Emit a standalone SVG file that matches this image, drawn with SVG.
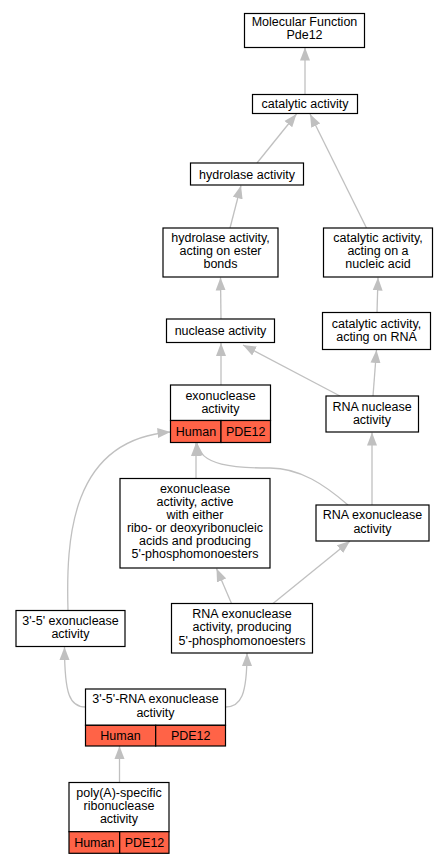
<svg xmlns="http://www.w3.org/2000/svg" width="447" height="864" viewBox="0 0 447 864">
<style>
.n rect{fill:#fff;stroke:#000;stroke-width:1.2}
.n rect.c{fill:#ff6347}
text{font-family:"Liberation Sans",Arial,sans-serif;font-size:12.5px;text-anchor:middle;fill:#000}
.e path{fill:none;stroke:#c0c0c0;stroke-width:1.3;marker-end:url(#a)}
</style>
<defs>
<marker id="a" markerUnits="userSpaceOnUse" markerWidth="14" markerHeight="11" refX="13" refY="5" orient="auto" viewBox="0 0 14 10">
<path d="M0,0 L13,5 L0,10 z" fill="#c0c0c0"/>
</marker>
</defs>
<g id="edges" class="e">
<path d="M305,94.5 L305,47.5"/>
<path d="M257,163 L296.5,114"/>
<path d="M366.5,228 L310,114"/>
<path d="M230,228 L241,185.5"/>
<path d="M221,319 L220.5,277.5"/>
<path d="M377,312.5 L378,277.5"/>
<path d="M221,385 L221,343"/>
<path d="M340,396 L243,345"/>
<path d="M373,396 L376.5,350"/>
<path d="M196,478.5 L196,443"/>
<path d="M348,505 C325,485 300,468 270,468 C235,468 200,466 197,443"/>
<path d="M372,505 L372,432.5"/>
<path d="M231.5,603.5 L216.5,568.5"/>
<path d="M273,603.5 L350,541"/>
<path d="M68,610.5 C66,540 70,440 170.5,432"/>
<path d="M85.5,707 C70,707 64.5,695 64.5,647"/>
<path d="M225.5,707 C241,707 247,695 247,653"/>
<path d="M119.5,782.5 L119.5,746"/>
</g>
<g id="n1" class="n"><rect x="244.5" y="13.5" width="120" height="34"/><text x="304.5" y="26">Molecular Function</text><text x="304.5" y="39">Pde12</text></g>
<g id="n2" class="n"><rect x="252.5" y="94.5" width="105" height="19"/><text x="305" y="108">catalytic activity</text></g>
<g id="n3" class="n"><rect x="190.5" y="163" width="113" height="22"/><text x="247" y="178.5">hydrolase activity</text></g>
<g id="n4" class="n"><rect x="163" y="228" width="115" height="49"/><text x="220.5" y="242">hydrolase activity,</text><text x="220.5" y="255">acting on ester</text><text x="220.5" y="268">bonds</text></g>
<g id="n5" class="n"><rect x="323.5" y="228" width="109" height="49"/><text x="378" y="242">catalytic activity,</text><text x="378" y="255">acting on a</text><text x="378" y="268">nucleic acid</text></g>
<g id="n6" class="n"><rect x="166.5" y="319" width="108" height="23.5"/><text x="220.5" y="335">nuclease activity</text></g>
<g id="n7" class="n"><rect x="322.5" y="312.5" width="108" height="37"/><text x="376.5" y="327.5">catalytic activity,</text><text x="376.5" y="341">acting on RNA</text></g>
<g id="n8" class="n"><rect x="170.5" y="385" width="100" height="35.5"/><rect class="c" x="170.5" y="420.5" width="50.5" height="22"/><rect class="c" x="221" y="420.5" width="49.5" height="22"/><text x="220.5" y="399.5">exonuclease</text><text x="220.5" y="412.5">activity</text><text x="196" y="436">Human</text><text x="245.7" y="436">PDE12</text></g>
<g id="n9" class="n"><rect x="326" y="396" width="92.5" height="36"/><text x="372" y="410.5">RNA nuclease</text><text x="372" y="423.5">activity</text></g>
<g id="n10" class="n"><rect x="120" y="478.5" width="150" height="89.5"/><text x="195" y="493">exonuclease</text><text x="195" y="506">activity, active</text><text x="195" y="519">with either</text><text x="195" y="532">ribo- or deoxyribonucleic</text><text x="195" y="545">acids and producing</text><text x="195" y="558">5'-phosphomonoesters</text></g>
<g id="n11" class="n"><rect x="316" y="505" width="113" height="36"/><text x="372.5" y="519">RNA exonuclease</text><text x="372.5" y="532.5">activity</text></g>
<g id="n12" class="n"><rect x="16" y="610.5" width="109" height="36"/><text x="70.5" y="625">3'-5' exonuclease</text><text x="70.5" y="638">activity</text></g>
<g id="n13" class="n"><rect x="171.5" y="603.5" width="141" height="49.5"/><text x="242" y="617.5">RNA exonuclease</text><text x="242" y="631">activity, producing</text><text x="242" y="644.5">5'-phosphomonoesters</text></g>
<g id="n14" class="n"><rect x="85.5" y="689" width="140" height="36.3"/><rect class="c" x="85.5" y="725.3" width="70.2" height="20.7"/><rect class="c" x="155.7" y="725.3" width="69.8" height="20.7"/><text x="155.5" y="703">3'-5'-RNA exonuclease</text><text x="155.5" y="717">activity</text><text x="120.5" y="740">Human</text><text x="190.7" y="740">PDE12</text></g>
<g id="n15" class="n"><rect x="69" y="782.5" width="100" height="49.2"/><rect class="c" x="69" y="831.7" width="50.7" height="21.6"/><rect class="c" x="119.7" y="831.7" width="49.3" height="21.6"/><text x="119" y="796.5">poly(A)-specific</text><text x="119" y="810">ribonuclease</text><text x="119" y="823">activity</text><text x="94.3" y="846.5">Human</text><text x="144.5" y="846.5">PDE12</text></g>
</svg>
